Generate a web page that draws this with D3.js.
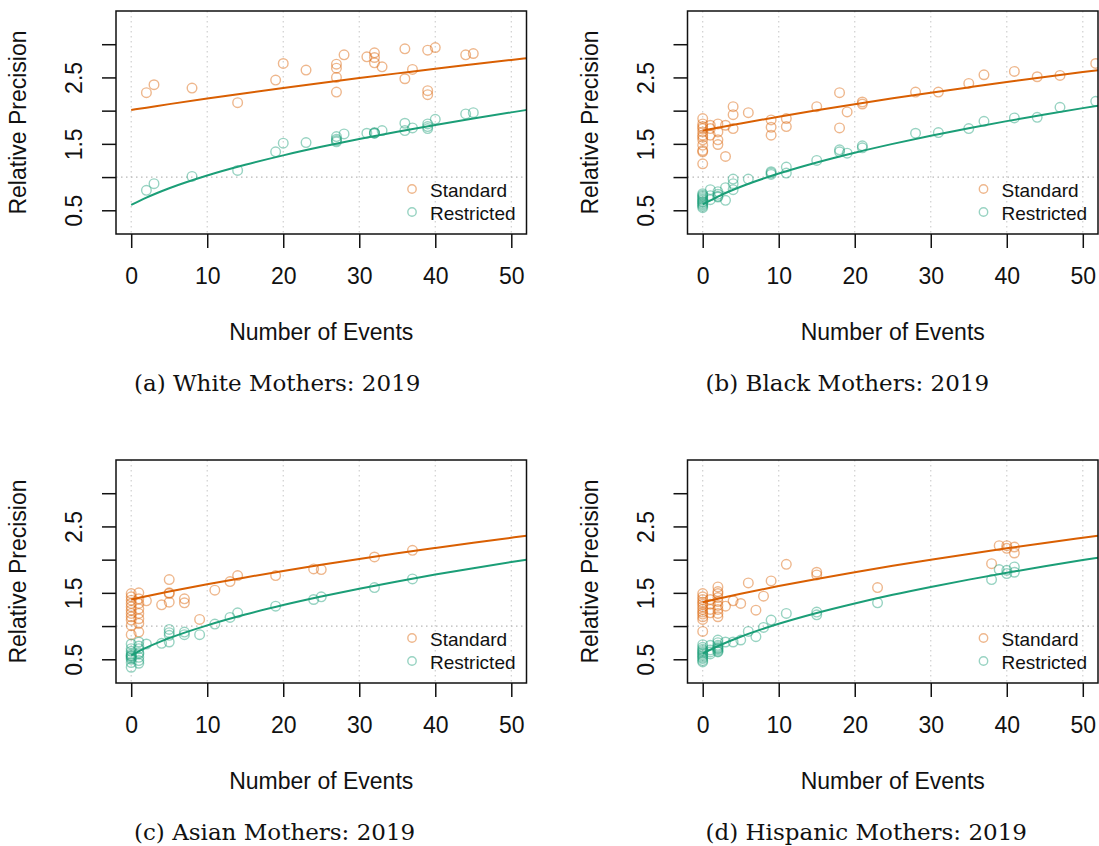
<!DOCTYPE html>
<html>
<head>
<meta charset="utf-8">
<script src="https://cdn.jsdelivr.net/npm/d3@7"></script>
<style>
  html, body { margin: 0; padding: 0; background: #ffffff; }
  svg { display: block; }
</style>
</head>
<body>
<svg id="chart" width="1099" height="846"></svg>
<script>
// ---------- data ----------
const xTicks = [0, 10, 20, 30, 40, 50];
const yTicks = [0.5, 1, 1.5, 2, 2.5, 3];
const yLabelTicks = [0.5, 1.5, 2.5];
const seriesNames = ["Standard", "Restricted"];
const xTitle = "Number of Events";
const yTitle = "Relative Precision";
const captions = ["(a) White Mothers: 2019", "(b) Black Mothers: 2019",
                  "(c) Asian Mothers: 2019", "(d) Hispanic Mothers: 2019"];

// (a) White mothers
const eventsA = [2,3,8,14,19,20,23,27,27,27,27,28,31,32,32,32,33,36,36,37,39,39,39,40,44,45];
const stdA = [2.27,2.39,2.34,2.12,2.46,2.71,2.61,2.70,2.64,2.50,2.28,2.84,2.81,2.87,2.80,2.72,2.66,2.93,2.48,2.62,2.91,2.30,2.24,2.95,2.84,2.86];
const resA = [0.80,0.90,1.01,1.10,1.38,1.51,1.52,1.61,1.57,1.53,1.55,1.65,1.66,1.67,1.66,1.66,1.70,1.81,1.70,1.74,1.80,1.73,1.76,1.87,1.95,1.97];

// (b) Black mothers
const eventsB = [0,0,0,0,0,0,0,0,0,0,0,0, 1,1,1, 2,2,2,2, 3,3, 4,4,4, 6, 9,9,9, 11,11, 15, 18,18, 19, 21,21, 28,31,35,37,41,44,47,51.7];
const stdB = [1.88,1.80,1.76,1.73,1.68,1.63,1.60,1.56,1.48,1.40,1.38,1.20, 1.78,1.73,1.63, 1.80,1.68,1.56,1.49, 1.78,1.31, 2.06,1.94,1.73, 1.97, 1.86,1.75,1.63, 1.88,1.76, 2.06, 2.27,1.74, 1.98, 2.13,2.10, 2.28,2.28,2.41,2.54,2.59,2.51,2.53,2.71];
const resB = [0.75,0.73,0.71,0.69,0.67,0.65,0.63,0.62,0.60,0.58,0.56,0.54, 0.81,0.72,0.66, 0.78,0.74,0.71,0.70, 0.84,0.65, 0.97,0.90,0.81, 0.97, 1.08,1.06,1.04, 1.15,1.06, 1.25, 1.41,1.38, 1.36, 1.47,1.44, 1.66,1.67,1.73,1.84,1.89,1.90,2.05,2.14];

// (c) Asian mothers
const eventsC = [0,0,0,0,0,0,0,0,0,0,0, 1,1,1,1,1,1,1,1, 2, 4, 5,5,5,5, 7,7, 9, 11, 13, 14, 19, 24, 25, 32, 37];
const stdC = [1.49,1.44,1.39,1.34,1.29,1.24,1.19,1.14,1.09,1.01,0.87, 1.50,1.41,1.34,1.26,1.19,1.11,1.04,0.91, 1.38, 1.32, 1.70,1.50,1.49,1.36, 1.41,1.35, 1.10, 1.54, 1.67, 1.76, 1.76, 1.86, 1.85, 2.04, 2.14];
const resC = [0.73,0.66,0.62,0.58,0.56,0.55,0.54,0.52,0.50,0.45,0.38, 0.76,0.70,0.66,0.60,0.58,0.53,0.48,0.44, 0.73, 0.74, 0.95,0.90,0.86,0.76, 0.91,0.87, 0.87, 1.03, 1.13, 1.20, 1.30, 1.40, 1.44, 1.58, 1.71];

// (d) Hispanic mothers
const eventsD = [0,0,0,0,0,0,0,0,0,0,0,0, 1,1,1,1, 2,2,2,2,2,2,2,2,2, 3, 4, 5, 6, 7, 8, 9, 11, 15,15, 23, 38, 39, 40,40, 41,41];
const stdD = [1.49,1.44,1.40,1.36,1.33,1.29,1.25,1.21,1.18,1.14,1.10,0.92, 1.40,1.33,1.25,1.20, 1.59,1.52,1.49,1.43,1.37,1.31,1.25,1.19,1.14, 1.30, 1.38, 1.34, 1.65, 1.24, 1.45, 1.68, 1.93, 1.81,1.77, 1.58, 1.94, 2.21, 2.21,2.17, 2.19,2.10];
const resD = [0.72,0.68,0.65,0.63,0.61,0.59,0.57,0.55,0.53,0.51,0.48,0.46, 0.71,0.64,0.61,0.58, 0.79,0.75,0.71,0.69,0.67,0.66,0.64,0.62,0.61, 0.76, 0.76, 0.79, 0.92, 0.84, 0.98, 1.09, 1.19, 1.21,1.17, 1.35, 1.70, 1.85, 1.84,1.79, 1.89,1.81];

// fitted curves, read at these event counts
const fitX = [0, 2, 5, 10, 15, 20, 25, 30, 35, 40, 45, 50, 52];
const stdFitA = [2.01, 2.045, 2.098, 2.182, 2.263, 2.341, 2.417, 2.490, 2.561, 2.631, 2.698, 2.764, 2.790];
const resFitA = [0.58, 0.691, 0.832, 1.024, 1.185, 1.327, 1.455, 1.572, 1.682, 1.784, 1.881, 1.974, 2.010];
const stdFitB = [1.70, 1.744, 1.807, 1.909, 2.005, 2.097, 2.185, 2.270, 2.351, 2.430, 2.507, 2.581, 2.610];
const resFitB = [0.59, 0.707, 0.854, 1.053, 1.220, 1.367, 1.500, 1.622, 1.735, 1.842, 1.942, 2.038, 2.075];
const stdFitC = [1.40, 1.449, 1.519, 1.629, 1.732, 1.830, 1.922, 2.010, 2.095, 2.176, 2.255, 2.330, 2.360];
const resFitC = [0.56, 0.675, 0.818, 1.011, 1.174, 1.316, 1.444, 1.562, 1.672, 1.775, 1.872, 1.964, 2.000];
const stdFitD = [1.36, 1.412, 1.486, 1.602, 1.710, 1.811, 1.907, 1.999, 2.086, 2.170, 2.251, 2.329, 2.360];
const resFitD = [0.585, 0.698, 0.840, 1.034, 1.197, 1.340, 1.470, 1.588, 1.699, 1.803, 1.901, 1.994, 2.030];

// ---------- drawing ----------
const colors = ["#D95F02", "#1B9E77"];
const sans = "'Liberation Sans', Arial, Helvetica, sans-serif";
const serif = "'DejaVu Serif', 'Liberation Serif', serif";

const panels = [
  {events: eventsA, std: stdA, res: resA, stdFit: stdFitA, resFit: resFitA, col: 0, row: 0, caption: captions[0]},
  {events: eventsB, std: stdB, res: resB, stdFit: stdFitB, resFit: resFitB, col: 1, row: 0, caption: captions[1]},
  {events: eventsC, std: stdC, res: resC, stdFit: stdFitC, resFit: resFitC, col: 0, row: 1, caption: captions[2]},
  {events: eventsD, std: stdD, res: resD, stdFit: stdFitD, resFit: resFitD, col: 1, row: 1, caption: captions[3]}
];

const svg = d3.select("#chart");
const boxW = 410.5, boxH = 223;
const lefts = [116, 687.5], tops = [11, 460];

panels.forEach((p, i) => {
  const left = lefts[p.col], top = tops[p.row];
  const x = d3.scaleLinear().domain([-2, 52]).range([left, left + boxW]);
  const y = d3.scaleLinear().domain([0.143, 3.50]).range([top + boxH, top]);

  const clipId = "clip" + i;
  svg.append("clipPath").attr("id", clipId)
    .append("rect").attr("x", left).attr("y", top).attr("width", boxW).attr("height", boxH);

  const g = svg.append("g");
  const inner = g.append("g").attr("clip-path", `url(#${clipId})`);

  // grid
  inner.selectAll("line.vgrid").data(xTicks).enter().append("line")
    .attr("x1", d => x(d)).attr("x2", d => x(d))
    .attr("y1", top).attr("y2", top + boxH)
    .attr("stroke", "#cfcfcf").attr("stroke-width", 1.2).attr("stroke-dasharray", "1.5,3.5");
  inner.append("line")
    .attr("x1", left).attr("x2", left + boxW)
    .attr("y1", y(1)).attr("y2", y(1))
    .attr("stroke", "#b8b8b8").attr("stroke-width", 1.2).attr("stroke-dasharray", "1.5,3.5");

  // points
  const sets = [p.std, p.res];
  sets.forEach((vals, k) => {
    inner.selectAll(null).data(p.events.map((e, j) => [e, vals[j]])).enter().append("circle")
      .attr("cx", d => x(d[0])).attr("cy", d => y(d[1])).attr("r", 4.8)
      .attr("fill", "none").attr("stroke", colors[k]).attr("stroke-opacity", 0.45).attr("stroke-width", 1.4);
  });

  // fitted lines
  const line = d3.line().x(d => x(d[0])).y(d => y(d[1])).curve(d3.curveMonotoneX);
  [p.stdFit, p.resFit].forEach((vals, k) => {
    inner.append("path").datum(fitX.map((e, j) => [e, vals[j]]))
      .attr("d", line).attr("fill", "none").attr("stroke", colors[k]).attr("stroke-width", 2);
  });

  // box
  g.append("rect").attr("x", left).attr("y", top).attr("width", boxW).attr("height", boxH)
    .attr("fill", "none").attr("stroke", "#111").attr("stroke-width", 1.5);

  // x axis
  const xa = g.append("g").attr("transform", `translate(0,${top + boxH})`)
    .call(d3.axisBottom(x).tickValues(xTicks).tickSize(14).tickPadding(20).tickFormat(d3.format("d")));
  xa.select(".domain").remove();
  xa.selectAll("line").attr("stroke", "#111").attr("stroke-width", 1.5);
  xa.selectAll("text").attr("font-family", sans).attr("font-size", 23).attr("fill", "#111");

  // y axis
  const ya = g.append("g").attr("transform", `translate(${left},0)`)
    .call(d3.axisLeft(y).tickValues(yTicks).tickSize(14)
      .tickFormat(d => yLabelTicks.includes(d) ? d3.format(".1f")(d) : ""));
  ya.select(".domain").remove();
  ya.selectAll("line").attr("stroke", "#111").attr("stroke-width", 1.5);
  ya.selectAll("text")
    .attr("x", null).attr("dy", null)
    .attr("text-anchor", "middle")
    .attr("transform", "translate(-34,0) rotate(-90)")
    .attr("font-family", sans).attr("font-size", 23).attr("fill", "#111");

  // titles
  g.append("text").attr("x", left + boxW / 2).attr("y", top + boxH + 106)
    .attr("text-anchor", "middle").attr("font-family", sans).attr("font-size", 23).attr("fill", "#111")
    .text(xTitle);
  g.append("text").attr("transform", `translate(${left - 90},${top + boxH / 2}) rotate(-90)`)
    .attr("text-anchor", "middle").attr("font-family", sans).attr("font-size", 23).attr("fill", "#111")
    .text(yTitle);

  // legend
  seriesNames.forEach((name, k) => {
    g.append("circle").attr("cx", left + 296).attr("cy", top + 178 + 23 * k).attr("r", 4.2)
      .attr("fill", "none").attr("stroke", colors[k]).attr("stroke-opacity", 0.45).attr("stroke-width", 1.4);
    g.append("text").attr("x", left + 314).attr("y", top + 186 + 23 * k)
      .attr("font-family", sans).attr("font-size", 19).attr("fill", "#111").text(name);
  });

  // caption
  g.append("text").attr("x", left + 18).attr("y", top + 380)
    .attr("font-family", serif).attr("font-size", 23).attr("fill", "#111")
    .text(p.caption);
});
</script>
</body>
</html>
